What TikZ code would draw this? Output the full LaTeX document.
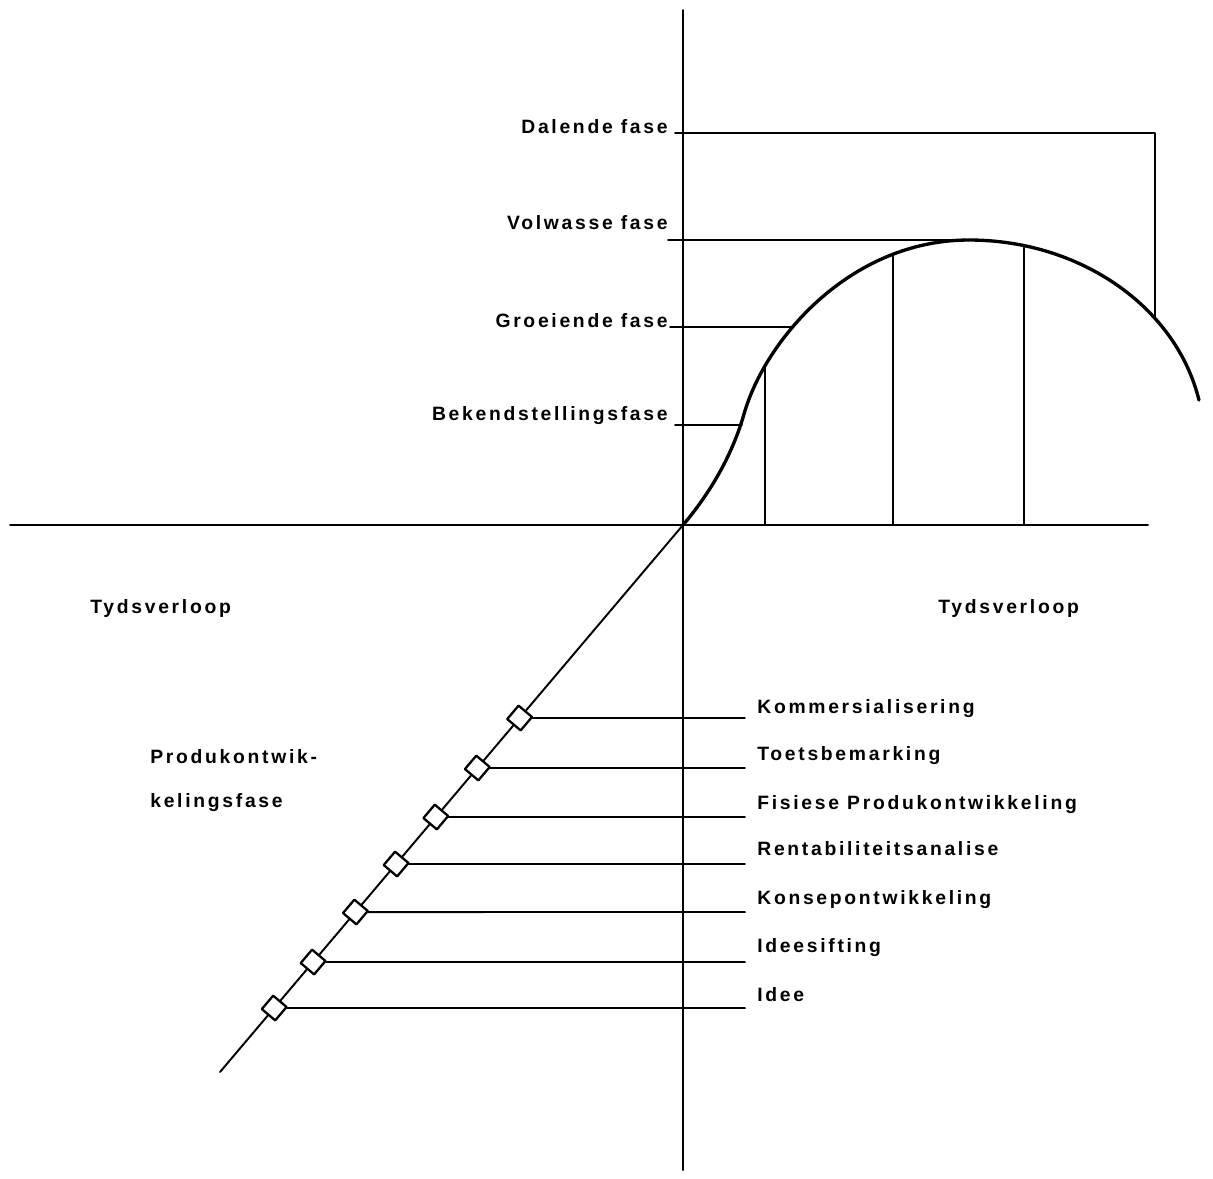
\documentclass[tikz,border=0pt]{standalone}
\usepackage{fontspec}
\setmainfont{Liberation Sans}[LetterSpace=14]
\usetikzlibrary{calc,positioning}
\tikzset{
  fase/.style={font=\bfseries\fontsize{11}{13}\selectfont,inner sep=0pt},
  as/.style={line width=1.1pt},
  kurwe/.style={line width=1.9pt},
  merk/.style={draw,fill=white,line width=1.3pt,minimum size=10pt,inner sep=0pt,rotate=49.8}
}
\begin{document}
\begin{tikzpicture}[x=0.02cm,y=-0.02cm,line cap=round,line join=round]
\useasboundingbox (0,0) rectangle (1213,1178);
% Assestelsel en oorsprong
\coordinate (O) at (683,525);
\coordinate (Vbo) at (683,10);
\coordinate (Von) at (683,1170);
\coordinate (Hli) at (10,525);
\coordinate (Hre) at (1148,525);
\coordinate (Dia) at (220,1072);
\draw[as] (Vbo) -- (Von);
\draw[as] (Hli) -- (Hre);
\draw[as] (O) -- (Dia);
% Produklewensiklus
\coordinate (S) at (744,414);
\coordinate (Top) at (969,240);
\draw[kurwe] (O) .. controls (700,505) and (729.3,465.8) .. (S)
 .. controls (765,340) and (850,240) .. (Top)
 arc[start angle=-90,end angle=-11.9,x radius=235,y radius=201.6];
\draw[as] (765,525) -- (765,367);
\draw[as] (893,525) -- (893,253.5);
\draw[as] (1024,525) -- (1024,246);
% Fases van die lewensiklus
\node[fase,anchor=base east] (dal) at (668,133) {Dalende fase};
\node[fase,anchor=base east] (vol) at (668,229) {Volwasse fase};
\node[fase,anchor=base east] (gro) at (668,327) {Groeiende fase};
\node[fase,anchor=base east] (bek) at (668,420) {Bekendstellingsfase};
\coordinate (dalE) at (1155,133);
\coordinate (dalO) at (1155,318.4);
\draw[as] (dal.base east) ++(7,0) -- (dalE) -- (dalO);
\draw[as] (vol.base east) ++(0,11) -- (Top);
\draw[as] (gro.base east) ++(2,0) -- (791,327);
\draw[as] (bek.base east) ++(7,5) -- (742,425);
% Tydsas
\node[fase,anchor=west] (tyL) at (90,608) {Tydsverloop};
\node[fase,anchor=west] (tyR) at (938,608) {Tydsverloop};
\node[fase,anchor=west] (pro1) at (150,757) {Produkontwik-};
\node[fase,anchor=west] (pro2) at (150,803) {kelingsfase};
% Stappe van produkontwikkeling
\node[merk] (m1) at (519.6,718) {};
\node[merk] (m2) at (477.3,768) {};
\node[merk] (m3) at (435.8,817) {};
\node[merk] (m4) at (396.1,864) {};
\node[merk] (m5) at (355.4,912) {};
\node[merk] (m6) at (313.1,962) {};
\node[merk] (m7) at (274.2,1008) {};
\node[fase,anchor=base west] (s1) at (757,713) {Kommersialisering};
\node[fase,anchor=base west] (s2) at (757,760) {Toetsbemarking};
\node[fase,anchor=base west] (s3) at (757,809) {Fisiese Produkontwikkeling};
\node[fase,anchor=base west] (s4) at (757,855) {Rentabiliteitsanalise};
\node[fase,anchor=base west] (s5) at (757,904) {Konsepontwikkeling};
\node[fase,anchor=base west] (s6) at (757,952) {Ideesifting};
\node[fase,anchor=base west] (s7) at (757,1001) {Idee};
\draw[as] (m1) -- (m1 -| 745,0);
\draw[as] (m2) -- (m2 -| 745,0);
\draw[as] (m3) -- (m3 -| 745,0);
\draw[as] (m4) -- (m4 -| 745,0);
\draw[as] (m5) -- (m5 -| 745,0);
\draw[as] (m6) -- (m6 -| 745,0);
\draw[as] (m7) -- (m7 -| 745,0);
\end{tikzpicture}
\end{document}
